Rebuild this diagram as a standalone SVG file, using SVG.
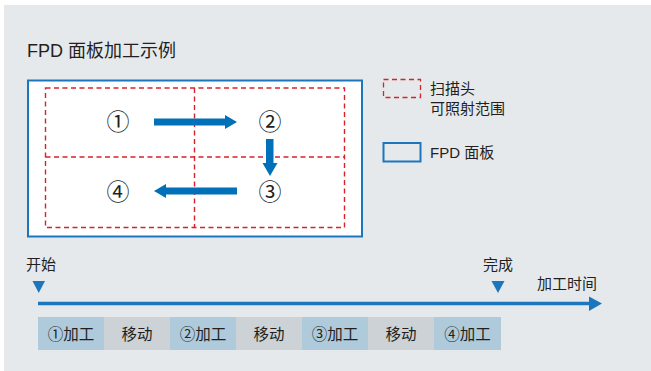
<svg xmlns="http://www.w3.org/2000/svg" width="651" height="371" viewBox="0 0 651 371">
<defs>
<style>
.t{font-family:"Liberation Sans","Noto Sans CJK SC",sans-serif;fill:#231f20}
.cn{font-size:15px}
.num{font-family:"Noto Sans CJK SC",sans-serif;font-size:23px;fill:#231f20;text-anchor:middle}
.grid{fill:none;stroke:#d7222b;stroke-width:1.4;stroke-dasharray:5 3.5}
.blue{fill:#0070b8}
.bx{font-size:15.5px;text-anchor:middle}
</style>
</defs>
<rect x="4" y="5" width="647" height="366" fill="#e6e9ec"/>
<text class="t" x="27" y="57" font-size="18">FPD 面板加工示例</text>

<g id="panel">
<rect x="28" y="80.5" width="334" height="156" fill="#fff" stroke="#1c76bd" stroke-width="2"/>
</g>
<g id="scan-grid">
<rect class="grid" x="45.5" y="88" width="299" height="139.5"/>
<line class="grid" x1="194.5" y1="88" x2="194.5" y2="227.5"/>
<line class="grid" x1="45.5" y1="157" x2="344.5" y2="157"/>
</g>
<g id="cell1"><text class="num" x="118" y="130">①</text></g>
<g id="cell2"><text class="num" x="270" y="130">②</text></g>
<g id="cell3"><text class="num" x="270" y="199.5">③</text></g>
<g id="cell4"><text class="num" x="118" y="199.5">④</text></g>

<g id="connectors">
<polygon class="blue" points="154,118.5 225,118.5 225,115 237,122 225,129 225,125.5 154,125.5"/>
<polygon class="blue" points="266,139 273.5,139 273.5,163 277.5,163 270,176 262.5,163 266,163"/>
<polygon class="blue" points="237,187.5 166,187.5 166,184 154,191 166,198 166,194.5 237,194.5"/>
<line x1="38" y1="303.5" x2="591" y2="303.5" stroke="#1c76bd" stroke-width="3.5"/>
<polygon points="589,296.5 602,303.5 589,311" fill="#1c76bd"/>
</g>

<g id="legend-scan">
<rect x="383.5" y="79.5" width="37" height="18" fill="none" stroke="#d7222b" stroke-width="1.3" stroke-dasharray="5 3.5"/>
<text class="t cn" x="430" y="93.5">扫描头</text>
<text class="t cn" x="430" y="114">可照射范围</text>
</g>
<g id="legend-panel">
<rect x="383.5" y="143" width="37" height="18.5" fill="none" stroke="#1c76bd" stroke-width="2"/>
<text class="t cn" x="430" y="157.5">FPD 面板</text>
</g>

<g id="start">
<text class="t cn" x="26" y="270">开始</text>
<polygon points="32.5,281 45,281 38.75,293" fill="#1c76bd"/>
</g>
<g id="finish">
<text class="t cn" x="483" y="270">完成</text>
<polygon points="491.5,281 504.5,281 498,293" fill="#1c76bd"/>
</g>
<g id="time-label">
<text class="t cn" x="537" y="288.5">加工时间</text>
</g>

<g id="seq1"><rect x="38" y="317" width="66" height="33" fill="#aecadb"/><text class="t bx" x="71" y="340">①加工</text></g>
<g id="seq2"><rect x="104" y="317" width="66" height="33" fill="#cdd2d6"/><text class="t bx" x="137" y="340">移动</text></g>
<g id="seq3"><rect x="170" y="317" width="66" height="33" fill="#aecadb"/><text class="t bx" x="203" y="340">②加工</text></g>
<g id="seq4"><rect x="236" y="317" width="66" height="33" fill="#cdd2d6"/><text class="t bx" x="269" y="340">移动</text></g>
<g id="seq5"><rect x="302" y="317" width="66" height="33" fill="#aecadb"/><text class="t bx" x="335" y="340">③加工</text></g>
<g id="seq6"><rect x="368" y="317" width="66" height="33" fill="#cdd2d6"/><text class="t bx" x="401" y="340">移动</text></g>
<g id="seq7"><rect x="434" y="317" width="67" height="33" fill="#aecadb"/><text class="t bx" x="467.5" y="340">④加工</text></g>
</svg>
